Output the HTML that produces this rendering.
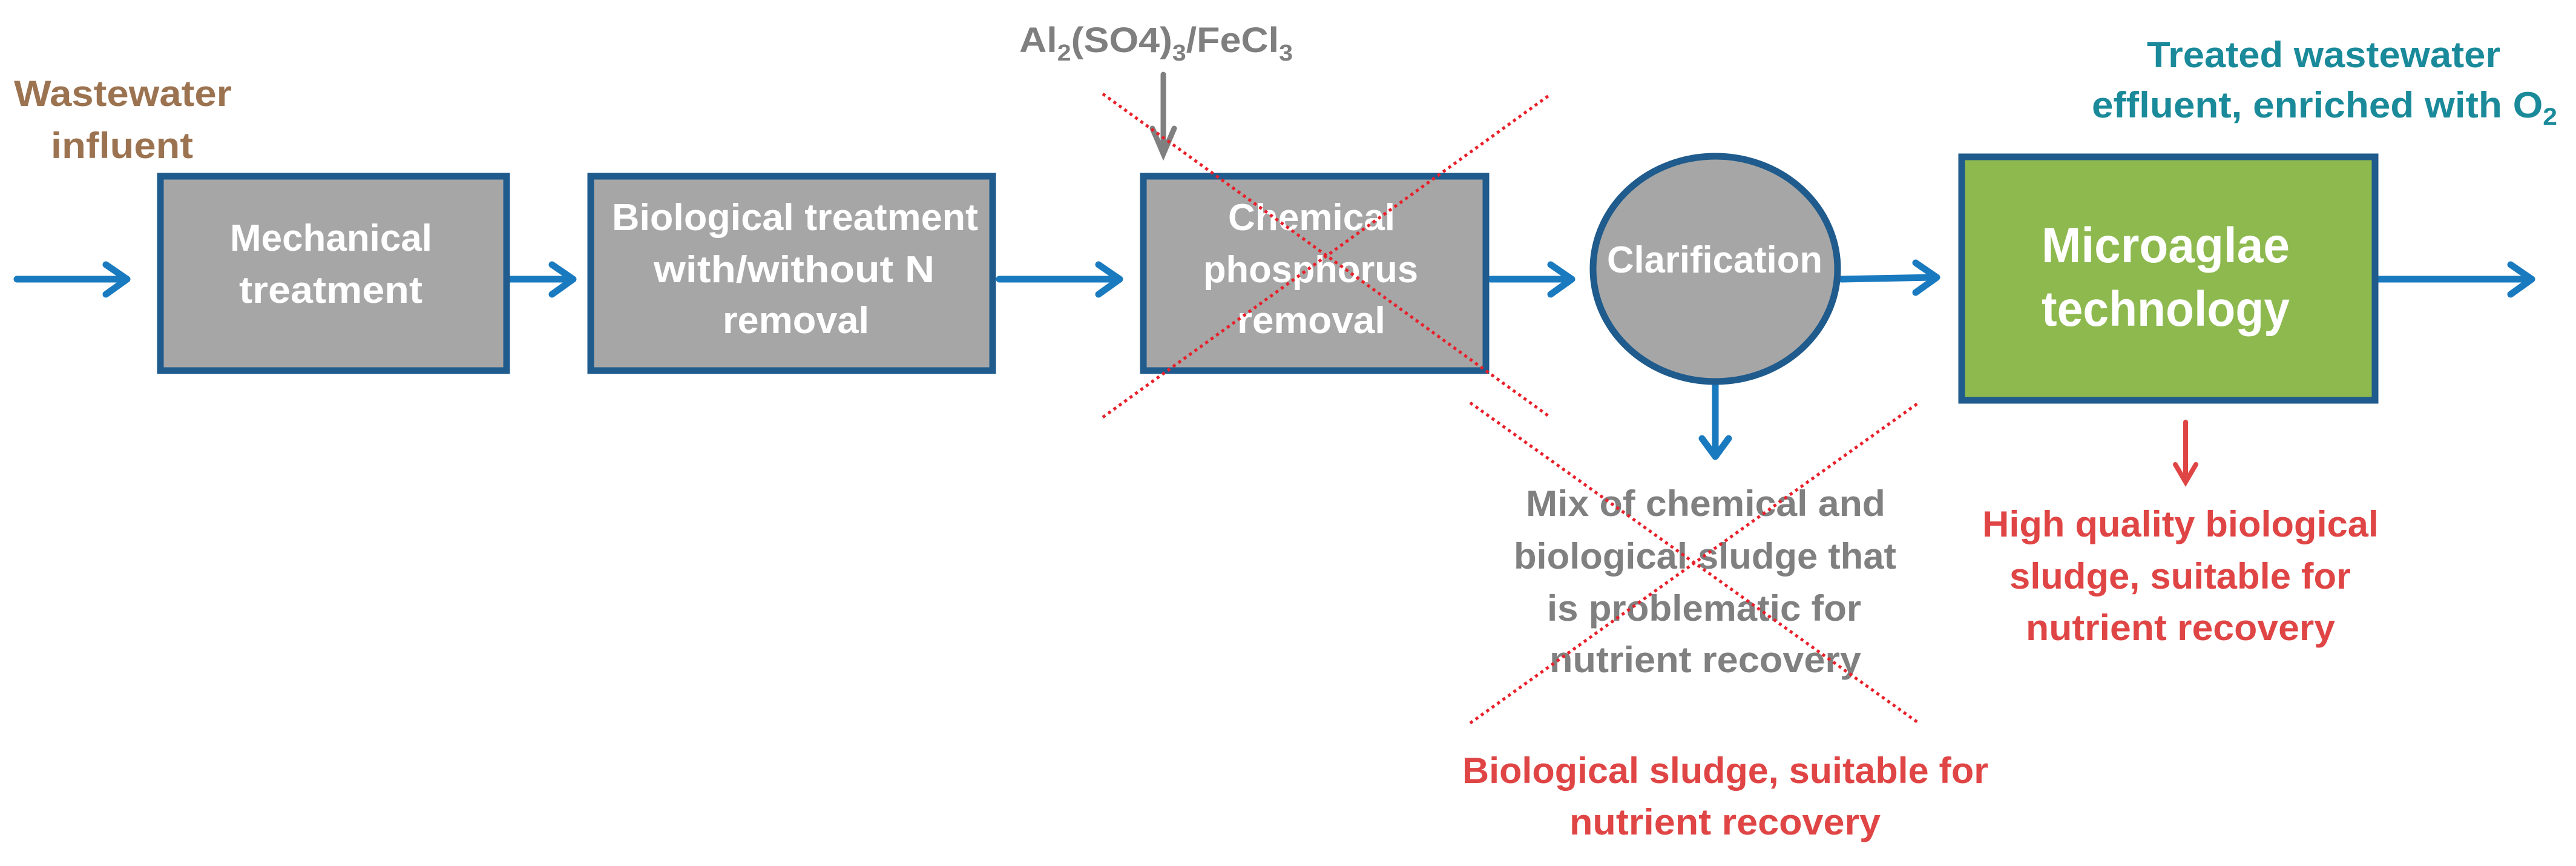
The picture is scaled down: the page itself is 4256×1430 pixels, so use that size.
<!DOCTYPE html>
<html><head><meta charset="utf-8"><style>
html,body{margin:0;padding:0;background:#fff;}
svg{display:block;}
text{font-family:"Liberation Sans",sans-serif;font-weight:bold;}
</style></head><body>
<svg width="4256" height="1430" viewBox="0 0 4256 1430" xmlns="http://www.w3.org/2000/svg">
<defs>
<marker id="ab" markerWidth="10" markerHeight="10" refX="8" refY="5" orient="auto" markerUnits="userSpaceOnUse" viewBox="0 0 10 10"></marker>
</defs>
<g fill="none" stroke="#1a7abf" stroke-width="11" stroke-linecap="round" stroke-linejoin="round">
<line x1="28" y1="461" x2="208" y2="461"/><polyline points="175,437 210,461 175,486"/>
<line x1="842" y1="461" x2="944" y2="461"/><polyline points="912,437 947,461 912,486"/>
<line x1="1651" y1="461" x2="1847" y2="461"/><polyline points="1815,437 1850,461 1815,486"/>
<line x1="2463" y1="461" x2="2594" y2="461"/><polyline points="2562,437 2597,461 2562,486"/>
<line x1="3042" y1="461" x2="3197" y2="458"/><polyline points="3165,434 3200,458 3165,483"/>
<line x1="3928" y1="461" x2="4180" y2="461"/><polyline points="4148,437 4183,461 4148,486"/>
<line x1="2834" y1="633" x2="2834" y2="752"/><polyline points="2812,724 2834,754 2856,724"/>
</g>
<g fill="none" stroke="#808080" stroke-width="9" stroke-linecap="round">
<line x1="1922" y1="123" x2="1922" y2="252"/><polyline points="1904,212 1922,254 1940,212"/>
</g>
<g fill="none" stroke="#e04545" stroke-width="8" stroke-linecap="round">
<line x1="3611" y1="697" x2="3611" y2="794"/><polyline points="3594,767 3611,796 3628,767"/>
</g>
<g stroke="#1f5b8c" stroke-width="11">
<rect x="265" y="291" width="572" height="321" fill="#a6a6a6"/>
<rect x="976" y="291" width="664" height="321" fill="#a6a6a6"/>
<rect x="1889" y="291" width="566" height="321" fill="#a6a6a6"/>
<ellipse cx="2834" cy="444" rx="202" ry="186" fill="#a6a6a6"/>
<rect x="3241" y="259" width="683" height="402" fill="#8db94e"/>
</g>
<g fill="#fff" text-anchor="start" font-size="62">
<text x="380" y="414" textLength="334" lengthAdjust="spacingAndGlyphs">Mechanical</text>
<text x="395" y="500" textLength="303" lengthAdjust="spacingAndGlyphs">treatment</text>
<text x="1011" y="380" textLength="605" lengthAdjust="spacingAndGlyphs">Biological treatment</text>
<text x="1080" y="466" textLength="464" lengthAdjust="spacingAndGlyphs">with/without N</text>
<text x="1194" y="550" textLength="242" lengthAdjust="spacingAndGlyphs">removal</text>
<text x="2029" y="380" textLength="276" lengthAdjust="spacingAndGlyphs">Chemical</text>
<text x="1988" y="466" textLength="355" lengthAdjust="spacingAndGlyphs">phosphorus</text>
<text x="2044" y="550" textLength="245" lengthAdjust="spacingAndGlyphs">removal</text>
<text x="2655" y="450" textLength="356" lengthAdjust="spacingAndGlyphs">Clarification</text>
<text x="3373" y="433" font-size="82" textLength="410" lengthAdjust="spacingAndGlyphs">Microaglae</text>
<text x="3373" y="538" font-size="82" textLength="410" lengthAdjust="spacingAndGlyphs">technology</text>
</g>
<g font-size="60">
<text x="23" y="175" fill="#9c7350" textLength="360" lengthAdjust="spacingAndGlyphs">Wastewater</text>
<text x="84" y="261" fill="#9c7350" textLength="235" lengthAdjust="spacingAndGlyphs">influent</text>
<text x="1684" y="86" fill="#7f7f7f" font-weight="normal" font-size="58" textLength="452" lengthAdjust="spacingAndGlyphs">Al<tspan font-size="38" dy="14">2</tspan><tspan dy="-14">(SO4)</tspan><tspan font-size="38" dy="14">3</tspan><tspan dy="-14">/FeCl</tspan><tspan font-size="38" dy="14">3</tspan></text>
<text x="3547" y="111" fill="#1a8a9a" textLength="584" lengthAdjust="spacingAndGlyphs">Treated wastewater</text>
<text x="3456" y="194" fill="#1a8a9a" textLength="769" lengthAdjust="spacingAndGlyphs">effluent, enriched with O<tspan font-size="40" dy="12">2</tspan></text>
<g fill="#808080">
<text x="2521" y="852" textLength="594" lengthAdjust="spacingAndGlyphs">Mix of chemical and</text>
<text x="2501" y="939" textLength="632" lengthAdjust="spacingAndGlyphs">biological sludge that</text>
<text x="2556" y="1025" textLength="519" lengthAdjust="spacingAndGlyphs">is problematic for</text>
<text x="2560" y="1110" textLength="515" lengthAdjust="spacingAndGlyphs">nutrient recovery</text>
</g>
<g fill="#e04545">
<text x="3275" y="886" textLength="655" lengthAdjust="spacingAndGlyphs">High quality biological</text>
<text x="3320" y="972" textLength="564" lengthAdjust="spacingAndGlyphs">sludge, suitable for</text>
<text x="3347" y="1057" textLength="511" lengthAdjust="spacingAndGlyphs">nutrient recovery</text>
<text x="2416" y="1293" textLength="869" lengthAdjust="spacingAndGlyphs">Biological sludge, suitable for</text>
<text x="2593" y="1378" textLength="514" lengthAdjust="spacingAndGlyphs">nutrient recovery</text>
</g>
</g>
<g stroke="#e8202a" stroke-width="5" stroke-dasharray="5,6" fill="none">
<line x1="1822" y1="155" x2="2560" y2="688"/>
<line x1="1822" y1="689" x2="2560" y2="157"/>
<line x1="2429" y1="665" x2="3170" y2="1194"/>
<line x1="2429" y1="1194" x2="3170" y2="665"/>
</g>
</svg>
</body></html>
